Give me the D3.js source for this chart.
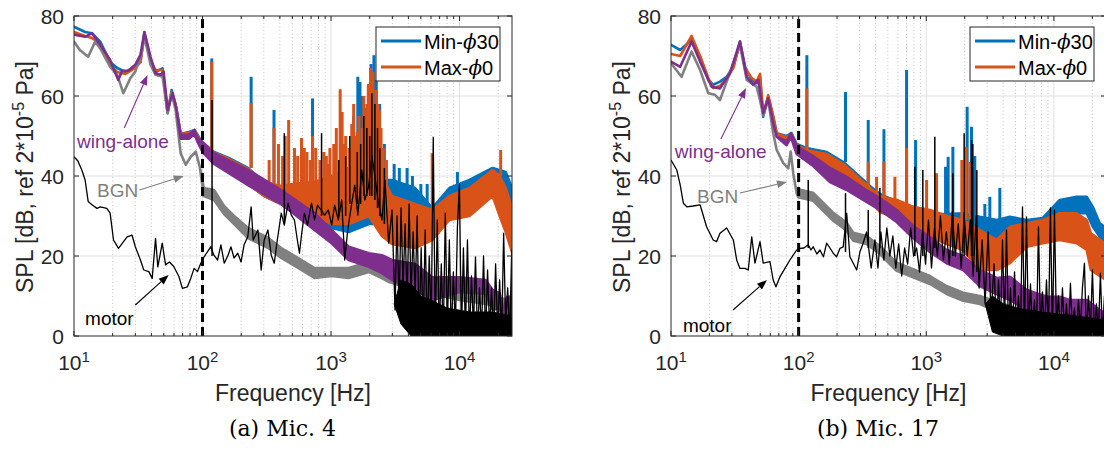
<!DOCTYPE html>
<html><head><meta charset="utf-8">
<script src="https://cdn.jsdelivr.net/npm/d3@7"></script>
<style>
body{margin:0;background:#fff}
svg{display:block}
text{font-family:"Liberation Sans",Arial,Helvetica,sans-serif}
</style>
</head><body>
<svg id="c" width="1104" height="450"></svg>
<script>
// ---------- DATA (frequency Hz, SPL dB) ----------
const yTicks = [0, 20, 40, 60, 80];
const xMajor = [10, 100, 1000, 10000];
const xExp = ["1", "2", "3", "4"];
const legendNames = ["Min-", "Max-"];
const legendSuffix = ["30", "0"];
const captions = ["(a) Mic. 4", "(b) Mic. 17"];
const noteNames = ["wing-alone", "BGN", "motor"];

// ----- Panel (a) Mic. 4 : bands [f, lo, hi]
const aBlue = [[10,77.3,77.3],[12.2,76,76],[13.8,75.7,75.7],[16,73.6,73.6],[19.1,68.5,68.5],[21.7,67,67],[25.1,66,66],[30,67.3,67.3],[32.9,68.5,68.5],[35.3,76,76],[39.4,69,69],[43,66,66],[48.9,66.9,66.9],[53.5,55.7,55.7],[57.5,61.5,61.5],[61.8,58,58],[67.6,49.8,50.5],[78.2,50,51],[86.7,50.5,51.5],[98.9,47,48.5],[123,43.5,46],[160,41.5,44.5],[226,38,42],[302,35,38.5],[410,33,37],[500,31.5,37],[744,29.5,37],[1011,27,37],[1373,26,39],[1970,28,42],[2490,28,39],[2982,29,39],[4515,29,37],[6135,25,32],[8335,33,37],[11950,35.5,39],[18090,38.5,42],[22880,33,41],[25600,27,37]];
const aOrange = [[10,76,76],[12.2,75,75],[13.8,74.5,74.5],[16,73,73],[19.1,68,68],[21.7,66,66],[25.1,65.5,65.5],[30,67,67],[32.9,68.5,68.5],[35.3,75.5,75.5],[39.4,69,69],[43,66.5,66.5],[48.9,66.5,66.5],[53.5,56,56],[57.5,61,61],[61.8,57.5,57.5],[67.6,49.8,50.5],[78.2,49.8,50.8],[86.7,50.3,51.3],[98.9,46.8,48.2],[123,43.5,45.8],[160,41.3,44.3],[226,38,41.8],[302,35,38.5],[410,33,37.5],[500,31,38],[744,30,38.5],[1011,28,40],[1373,28,42],[1970,30,46],[2490,25,40],[2982,23,35],[4515,22,33],[6135,24,31.5],[8335,29,35],[11950,30,37],[18090,35,41.5],[20540,30,40],[22880,26,37],[25600,21,32]];
const aPurple = [[10,75.3,75.3],[12.2,74.8,74.8],[13.8,75.7,75.7],[16,72.8,72.8],[19.1,69,69],[22.1,64,64],[23.7,66.3,66.3],[26.4,66.3,66.3],[30,67.8,67.8],[32.9,70.3,70.3],[35.3,75.9,75.9],[39.4,69.8,69.8],[43,65.7,65.7],[47.1,65.3,65.3],[49.8,66.1,66.1],[53.5,56.5,56.5],[58.5,60.7,60.7],[62.9,56.5,56.5],[67.6,49.3,50.3],[78.2,49.3,50.3],[86.7,50.5,51.5],[91.6,48.5,49.5],[100,46,48.5],[123,43,45.7],[226,37.7,41.5],[410,33,36.5],[744,26.5,30.7],[1011,23.2,26.5],[1373,19,22.3],[1970,17.3,20.7],[2490,15.7,20.2],[2982,14,19],[4515,11.5,18],[6135,9,14.7],[9980,11,14.7],[15950,10.5,14],[18090,6.5,11.5],[20540,7,10.7],[21680,3,6.5],[23500,4.7,9.8],[25600,4.7,9.8]];
const aGray = [[10,73.6,73.6],[11.1,71.5,71.5],[12.9,69.8,69.8],[14.6,73.6,73.6],[16,71.9,71.9],[19.1,67.3,67.3],[21.7,65.3,65.3],[24.2,60.7,60.7],[27.4,64.4,64.4],[30,66.1,66.1],[33.5,70.7,70.7],[35.3,74.8,74.8],[39.4,67.8,67.8],[43,65.3,65.3],[48.9,64.8,64.8],[53.5,55.7,55.7],[57.5,60.7,60.7],[61.8,56.5,56.5],[67.6,45.7,45.7],[74,42.8,42.8],[81,44.8,44.8],[88.6,46.1,46.1],[95.2,42.3,42.3],[102.4,35,37],[123,34,36.5],[147,30.5,32.5],[176,28,30],[226,24.5,27],[325,22,24.5],[410,19.5,22],[589,16.5,19],[744,14.5,17],[1011,15,17],[1373,14.5,17],[1970,16,18.5],[2490,14.5,17],[2825,13.5,15.5],[4000,12,14],[10000,9,11],[25600,7,9]];
const aMotor = [[10,44.8],[10.7,43.8],[11.5,41.5],[12.2,39],[12.9,33.6],[13.8,32.8],[15.1,31.9],[16,32.3],[18,31.9],[19.1,30.7],[20.3,24],[22.2,21.9],[24.3,23.6],[25.9,24.8],[28.3,25.2],[30,22.3],[32.9,19],[34.9,16.5],[38.2,16.1],[40.6,14.4],[43.1,24.4],[44.9,17.3],[48.6,23.2],[51.6,17.8],[55.4,18.5],[59.9,17.3],[65.6,14.8],[69.7,11.9],[76.3,12.3],[81,14.4],[86,16.9],[91.4,16.1],[97,18.2],[100,19],
 [102.9,19.8],[116,22.3],[122.6,20.2],[131,19],[139,22.8],[147.6,18.2],[158,20.2],[166.5,22.3],[176,19.5],[188,20.7],[199.5,18.5],[210.6,22.8],[225,24.8],[239,32.3],[248,24],[270,26.5],[286,16.5],[302,24],[323,26.5],[342.6,20.2],[361.6,18.2],[382,24],[410,30.7],[433,27.7],[463,33.2],[491,30.2],[519,29],[547,24],[568,20.7],[589,25.2],[621,30.7],[656,27.7],[705,33.2],[744,29],[785,32.7],[891,30.2],[953,31.5],[1011,27.7],[1067,32.7],[1140,29],[1211,34],[1278,19],[1349,26.5],[1450,33.2],[1531,37.7],[1616,30.2],[1736,41.5],[1832,34],[1959,37.3],[2080,45],[2195,40],[2317,34],[2490,29],[2628,39],[2810,23.2],[2982,31.5],
 [3148,6.5],[3264,30],[3383,5.7],[3507,32],[3636,12],[3770,28],[3908,8],[4051,33],[4200,10],[4354,26],[4514,9.8],[4680,30],[4851,0],[5029,22],[5214,1.5],[5405,26.5],[5604,0],[5809,20],[6023,3],[6244,49.7],[6473,0],[6710,29],[6957,0.7],[7212,18],[7477,0],[7751,30.7],[8036,1],[8331,24],[8636,0],[8953,16],[9282,2],[9622,27],[9976,38],[10342,0],[10721,22],[11115,1],[11523,24],[11946,0],[12384,15],[12839,2],[13310,19.8],[13798,0],[14304,12],[14829,1],[15374,20],[15938,0],[16523,16.5],[17129,2],[17758,12],[18410,0],[19085,18],[19786,1],[20512,14],[21265,0],[22045,25.7],[22854,3],[23693,12],[24563,0],[25464,21.5],[25600,1]];
// dense black mass of the motor spectrum at high frequency [f, lo, hi]
const aMotorFloor = [[3100,8,8],[3500,3,14],[4200,0,13],[5000,0,10],[6000,0,9],[8000,0,7],[12000,0,6],[18000,0,6],[25600,0,5]];
// spikes [f, base, top]
const aBlueSpikes = [[118,46,69.4],[239,42,64.8],[360,37,56.5],[718,37,59.4],[1500,38,55],[1616,38,64.8],[1680,38,63.5],[1750,40,60],[1850,41,57],[2050,42,68],[2157,40,70.2],[2250,40,64],[2390,38,58],[2600,37,48],[3100,36,43],[3400,35,42],[3908,36,42],[4300,33,40],[5000,32,38],[5600,31,38],[9630,37,41]];
const aOrangeSpikes = [[118,46,68.6],[239,42,58.2],[330,37,44],[360,37,52],[390,37,48],[420,37,45],[440,37,50],[468,37,54],[520,37,47],[550,37,45],[589,37,49.5],[620,37,47],[650,37,46],[690,37,44],[718,37,50],[760,37,47],[820,37,44],[880,37,46],[920,37,45],[950,37,43],[980,37,47],[1050,38,48],[1100,38,52],[1178,38,61.7],[1220,38,56],[1250,38,48],[1300,38,50],[1380,39,47],[1450,40,53],[1500,40,58],[1550,40,50],[1600,40,51],[1650,41,55],[1750,42,52],[1800,42,60],[1900,43,58],[1950,43,63],[2030,44,67],[2120,44,66],[2250,42,61.5],[2320,41,58],[2380,40,56.5],[2450,39,52],[2550,38,47],[2700,36,44],[6135,31,45.7],[20900,40,46.5]];
const aMotorSpikes = [[118.6,20,59],[433,28,50.7],[844,30,50.7],[1150,30,44],[1300,30,45],[1400,33,50],[1600,33,46],[1700,33,48],[1800,35,55],[1900,35,52],[2000,35,50],[2080,35,60.7],[2195,34,58],[2300,32,52],[2400,30,47],[2600,28,42]];

// ----- Panel (b) Mic. 17
const bBlue = [[10,72.8,72.8],[11.8,71.5,71.5],[14.5,74,74],[16.9,69.8,69.8],[19.6,64,64],[21.4,62.8,62.8],[24.2,63.6,63.6],[27.3,64.8,64.8],[30.8,67.3,67.3],[34.7,73.6,73.6],[38,67.3,67.3],[42.9,64,64],[46.9,63.2,63.2],[49.8,64.8,64.8],[52.8,54.8,54.8],[57.8,59.8,59.8],[63.2,54.8,54.8],[67.3,50.7,50.7],[80.5,49,50],[88.1,49.7,50.7],[96.5,46.5,48],[115,44.5,47],[166,43,46],[224,40.5,43.5],[285,37.5,40.5],[362,34,37.5],[433,32,35.5],[589,29.5,33.5],[785,28,32],[1067,26.5,30.5],[1450,26,30.5],[1934,26.5,30.7],[2628,24.8,29.8],[3571,24,29],[4515,24,29.8],[6135,24,29],[8185,24.5,29.5],[11120,29,34],[15110,30.7,34.8],[18090,30.7,34.8],[20170,27.3,32.3],[22880,24.8,28.2],[25600,23,27]];
const bOrange = [[10,70.5,70.5],[11.8,70,70],[14.5,75,75],[16.9,70,70],[19.6,64.5,64.5],[21.4,62,62],[24.2,62.5,62.5],[27.3,64.5,64.5],[30.8,67,67],[34.7,73.3,73.3],[38,67,67],[42.9,64.5,64.5],[46.9,63.6,63.6],[49.8,65.5,65.5],[52.8,55.5,55.5],[57.8,60.2,60.2],[63.2,55,55],[67.3,50.7,50.7],[80.5,48.7,49.7],[88.1,49.5,50.5],[96.5,46.3,47.7],[115,44.3,46.5],[166,42.8,45.5],[224,40.3,43],[285,37.3,40],[362,33.8,37],[433,31,35],[589,29.5,34],[785,27.3,32.3],[1067,24.8,31.5],[1450,23,30],[1934,21.5,29],[2628,16.5,26.5],[3571,16.5,24],[4515,18.2,27.3],[6135,22.3,28.2],[8185,23.2,29],[11120,24,30.7],[15110,23.2,30.7],[18090,21.5,29],[19450,16.5,25.7],[25600,14,23]];
const bPurple = [[10,68.6,68.6],[11.8,67.3,67.3],[14.5,73.6,73.6],[16.9,68.6,68.6],[20.8,62.3,62.3],[24.2,61.9,61.9],[29,65.7,65.7],[34.7,73.6,73.6],[39.2,64.8,64.8],[44.1,62.8,62.8],[48.3,64,64],[52.8,55.7,55.7],[57.8,59.4,59.4],[63.2,53.2,53.2],[67.3,49.8,49.8],[80.5,47.7,48.7],[87,49.7,50.7],[96.5,45.5,47.5],[130,42.5,45],[176,38.5,42],[238,36.5,39.8],[320,34,37],[433,31.5,34.5],[586,28.5,31.5],[790,24.5,27.5],[1067,21,24.8],[1442,18.2,21.5],[1945,16.5,20],[2628,12.5,16.5],[3552,10.5,14.5],[4515,9,14.8],[6135,6.5,11.5],[8800,4.7,9.8],[11120,6.5,9.8],[13320,4.7,9],[18090,4,9],[22880,1.5,6.5],[25600,1,5.5]];
const bGray = [[10,68.2,68.2],[12.1,64.8,64.8],[14.5,71.1,71.1],[16.9,66.5,66.5],[19.6,60.7,60.7],[22.1,60.3,60.3],[24.2,59,59],[27.3,63.6,63.6],[34.7,72.8,72.8],[39.2,64,64],[46.9,62.3,62.3],[49.8,59,59],[52.8,55.2,55.2],[57.8,59,59],[63.2,50.7,50.7],[67.3,46.5,46.5],[75.8,43.2,43.2],[82.9,41.9,41.9],[86.6,46.1,46.1],[90.7,40.7,40.7],[96.5,35.7,35.7],[99.3,34.7,36.7],[130,33.8,35.8],[156,31.3,33.3],[187,28.8,30.8],[238,26.3,28.3],[268,23.8,25.8],[341,23,25],[433,20.5,22.5],[586,16.3,18.3],[790,14.7,16.7],[1067,13,15],[1442,10.5,12.5],[1945,8.8,10.8],[2628,8,10],[5000,4,7],[10000,3,6],[25600,2,5]];
const bMotor = [[10,44],[11.1,41.5],[11.8,37.8],[12.5,33.2],[13.3,32.3],[14.9,32.5],[16.9,32.8],[19,27.3],[21.4,24],[22.8,23.6],[24.2,25.7],[27.3,27],[30.8,24],[32.7,19],[34.7,16.9],[38,16.9],[40.3,16.5],[42.9,24.8],[45.5,18.2],[49.8,23.6],[52.8,18.2],[59.6,18.6],[63.2,14],[66.4,12.3],[71.4,14.8],[78.1,16.9],[85.5,19],[90.7,20.2],[96.5,21.5],[102.4,21.9],[110,22],[118.9,22.8],[125,21.5],[130,22.3],[139,20.5],[146.8,21.5],[156.4,19.8],[165.7,23.2],[176,22],[186.6,20.7],[198.4,19.8],[210.6,21.9],[223.6,22.3],[238,30.7],[252,19.8],[268,18.2],[285,16.5],[302,21],[320,23.2],[341,26],[370,17],
 [396,24],[418,17],[441,26],[465,19],[491,27],[518,20],[547,25],[577,17],[608,23],[642,15],[677,22],[715,18],[754,27],[796,20],[840,22],[886,16],[935,26],[987,18],[1041,29],[1099,17],[1159,27],[1223,20],[1291,30],[1362,19],[1437,26],[1516,18],[1600,31],[1688,20],[1781,28],[1880,17],[1984,30],[2093,20],[2209,29],[2331,15],[2460,30],[2595,12],[2739,24],[2890,8],[3050,26],[3218,5],[3396,18],
 [3552,0.7],[3682,14],[3817,2],[3957,24],[4103,3],[4253,26.5],[4409,1],[4571,12],[4739,0],[4913,16],[5093,2],[5280,10],[5474,0],[5675,32.3],[5883,1],[6099,29.8],[6323,0],[6555,13],[6795,1],[7045,9],[7303,0],[7571,27.3],[7849,2],[8137,11],[8436,0],[8745,14],[9066,1],[9399,32],[9744,0],[10101,31.5],[10472,2],[10857,10],[11255,0],[11668,12],[12097,1],[12541,8],[13001,0],[13478,13.2],[13973,1],[14486,7],[15018,0],[15569,9],[16140,2],[16732,12],[17347,18.2],[17983,0],[18643,10],[19328,1],[20037,16.5],[20773,0],[21535,8],[22326,1],[23145,15.7],[23995,0],[24876,10],[25600,2]];
const bMotorFloor = [[2900,8,8],[3300,1,10],[4000,0,8],[5000,0,7],[8000,0,6],[15000,0,5],[25600,0,4]];
const bBlueSpikes = [[116,47,70.2],[233,43.5,61],[351,37.5,54],[466,35,51.7],[701,32.5,66.5],[825,31.5,49],[1416,30.5,42.3],[1484,30.5,44.8],[1616,30.5,47.3],[2091,30.5,57.3],[2263,30,52.3],[2400,30,45],[2876,29.5,33],[3148,29,34.8],[3770,29,37]];
const bOrangeSpikes = [[116,46.5,61.9],[351,37,43.6],[408,35,39.8],[466,35,43.6],[568,34,39.8],[701,32.5,47],[1006,31.5,39],[1204,31,40.7],[1900,29,44],[2050,29,47.3],[2200,28,43.5],[2300,28,41]];
const bMotorSpikes = [[118.9,22,39],[233,21,35.7],[351,22,31.5],[433,22,37],[814,20,42.3],[940,20,41.5],[1167,22,49.8],[1616,20,40.7],[1981,20,50.7],[2263,20,49],[2317,20,48],[2490,16,41.5]];

// annotations in data coordinates: text anchor [f, dB], arrow [fTail, dBTail, fTip, dBTip]
const aNotes = [[10.56,47],[15.1,34.75],[12.2,2.75]];
const aArrows = [[24.6,52,37.3,65.25],[32.3,36.5,71.4,40],[30,7.75,54.5,15.25]];
const bNotes = [[10.7,44.5],[16,33.25],[12.4,1]];
const bArrows = [[24.6,49.25,38.7,62],[34.7,35.75,81,38.5],[30.6,6.5,56.5,14]];

// ---------- DRAW ----------
const C = {blue:"#0072BD", orange:"#D95319", purple:"#7E2F8E", gray:"#808080", black:"#000000", axis:"#262626"};
const noteColors = [C.purple, C.gray, C.black];
const TOP = 16, BOT = 336;
const panels = [
  {L:74, R:512, blue:aBlue, orange:aOrange, purple:aPurple, gray:aGray, motor:aMotor, floor:aMotorFloor, bs:aBlueSpikes, os:aOrangeSpikes, ms:aMotorSpikes, notes:aNotes, arrows:aArrows},
  {L:671, R:1106, blue:bBlue, orange:bOrange, purple:bPurple, gray:bGray, motor:bMotor, floor:bMotorFloor, bs:bBlueSpikes, os:bOrangeSpikes, ms:bMotorSpikes, notes:bNotes, arrows:bArrows}
];
const svg = d3.select("#c");
const defs = svg.append("defs");

panels.forEach((p, i) => {
  const x = d3.scaleLog().domain([10, 25600]).range([p.L, p.R]);
  const y = d3.scaleLinear().domain([0, 80]).range([BOT, TOP]);
  const g = svg.append("g");
  const cid = "clip" + i;
  defs.append("clipPath").attr("id", cid).append("rect")
    .attr("x", p.L).attr("y", TOP).attr("width", p.R - p.L).attr("height", BOT - TOP);

  // grid
  const allTicks = x.ticks().filter(t => t >= 10 && t <= 25600);
  const minor = allTicks.filter(t => !xMajor.includes(t));
  g.selectAll(".mg").data(minor).enter().append("line")
    .attr("x1", d => x(d)).attr("x2", d => x(d)).attr("y1", TOP).attr("y2", BOT)
    .attr("stroke", "#c4c4c4").attr("stroke-width", 1).attr("stroke-dasharray", "1,2.5");
  g.selectAll(".Mg").data(xMajor.slice(1)).enter().append("line")
    .attr("x1", d => x(d)).attr("x2", d => x(d)).attr("y1", TOP).attr("y2", BOT)
    .attr("stroke", "#e0e0e0").attr("stroke-width", 1);
  g.selectAll(".yg").data(yTicks.slice(1, -1)).enter().append("line")
    .attr("x1", p.L).attr("x2", p.R).attr("y1", d => y(d)).attr("y2", d => y(d))
    .attr("stroke", "#e0e0e0").attr("stroke-width", 1);

  const dg = g.append("g").attr("clip-path", `url(#${cid})`);
  const area = d3.area().x(d => x(d[0])).y0(d => y(d[1])).y1(d => y(d[2]));
  const band = (data, col, w) => dg.append("path").attr("d", area(data))
    .attr("fill", col).attr("stroke", col).attr("stroke-width", w).attr("stroke-linejoin", "round");
  const spikes = (data, col, w) => dg.append("g").selectAll("line").data(data).enter().append("line")
    .attr("x1", d => x(d[0])).attr("x2", d => x(d[0])).attr("y1", d => y(d[1])).attr("y2", d => y(d[2]))
    .attr("stroke", col).attr("stroke-width", w);

  band(p.blue, C.blue, 2.6);
  spikes(p.bs, C.blue, 3);
  band(p.orange, C.orange, 2.6);
  spikes(p.os, C.orange, 3);
  band(p.gray, C.gray, 2.6);
  band(p.purple, C.purple, 2.6);
  band(p.floor, C.black, 1);
  const line = d3.line().x(d => x(d[0])).y(d => y(d[1]));
  dg.append("path").attr("d", line(p.motor)).attr("fill", "none").attr("stroke", C.black)
    .attr("stroke-width", 1.3).attr("stroke-linejoin", "round");
  spikes(p.ms, C.black, 1.5);

  // dashed line at 100 Hz
  g.append("line").attr("x1", x(100)).attr("x2", x(100)).attr("y1", y(0)).attr("y2", y(80))
    .attr("stroke", "#000").attr("stroke-width", 3).attr("stroke-dasharray", "9,5");

  // box
  g.append("rect").attr("x", p.L).attr("y", TOP).attr("width", p.R - p.L).attr("height", BOT - TOP)
    .attr("fill", "none").attr("stroke", C.axis).attr("stroke-width", 1);
  // ticks
  const tk = g.append("g").attr("stroke", C.axis).attr("stroke-width", 1);
  allTicks.forEach(t => {
    const len = xMajor.includes(t) ? 5 : 3;
    tk.append("line").attr("x1", x(t)).attr("x2", x(t)).attr("y1", BOT).attr("y2", BOT - len);
    tk.append("line").attr("x1", x(t)).attr("x2", x(t)).attr("y1", TOP).attr("y2", TOP + len);
  });
  yTicks.forEach(t => {
    tk.append("line").attr("x1", p.L).attr("x2", p.L + 5).attr("y1", y(t)).attr("y2", y(t));
    tk.append("line").attr("x1", p.R).attr("x2", p.R - 5).attr("y1", y(t)).attr("y2", y(t));
  });
  // tick labels
  yTicks.forEach(t => {
    g.append("text").attr("x", p.L - 10).attr("y", y(t) + 7.5).attr("text-anchor", "end")
      .style("font-size", "21px").attr("fill", C.axis).text(t);
  });
  xMajor.forEach((t, k) => {
    const tx = g.append("text").attr("x", x(t)).attr("y", 370).attr("text-anchor", "middle")
      .style("font-size", "21px").attr("fill", C.axis);
    tx.append("tspan").text("10");
    tx.append("tspan").attr("dy", -8.5).style("font-size", "15px").text(xExp[k]);
  });
  // axis labels
  const cx = (p.L + p.R) / 2;
  g.append("text").attr("x", cx).attr("y", 401).attr("text-anchor", "middle")
    .style("font-size", "23px").attr("fill", C.axis).text("Frequency [Hz]");
  const yl = g.append("text").attr("transform", `translate(${p.L - 41},177) rotate(-90)`)
    .attr("text-anchor", "middle").style("font-size", "23px").attr("fill", C.axis);
  yl.append("tspan").text("SPL [dB, ref 2*10");
  yl.append("tspan").attr("dy", -9).style("font-size", "16px").text("-5");
  yl.append("tspan").attr("dy", 9).text(" Pa]");
  // caption
  g.append("text").attr("x", cx - 10.5).attr("y", 436).attr("text-anchor", "middle")
    .style("font-family", "'DejaVu Serif','Liberation Serif',serif").style("font-size", "22px")
    .attr("fill", "#000").text(captions[i]);

  // legend
  const lr = p.R - 12, ll = lr - 124;
  g.append("rect").attr("x", ll).attr("y", 27).attr("width", 124).attr("height", 54)
    .attr("fill", "#fff").attr("stroke", C.axis).attr("stroke-width", 1);
  [C.blue, C.orange].forEach((col, k) => {
    const ly = 41 + k * 26;
    g.append("line").attr("x1", ll + 5).attr("x2", ll + 45).attr("y1", ly).attr("y2", ly)
      .attr("stroke", col).attr("stroke-width", 3);
    const lt = g.append("text").attr("x", ll + 48).attr("y", ly + 8).style("font-size", "20px").attr("fill", "#000");
    lt.append("tspan").text(legendNames[k]);
    lt.append("tspan").style("font-style", "italic").style("font-family", "'DejaVu Serif',serif").text("\u03D5");
    lt.append("tspan").text(legendSuffix[k]);
  });

  // annotations
  p.notes.forEach((n, k) => {
    g.append("text").attr("x", x(n[0])).attr("y", y(n[1])).style("font-size", "19px")
      .attr("fill", noteColors[k]).text(noteNames[k]);
  });
  p.arrows.forEach((a, k) => {
    const x0 = x(a[0]), y0 = y(a[1]), x1 = x(a[2]), y1 = y(a[3]);
    const ang = Math.atan2(y1 - y0, x1 - x0);
    const hl = 10, hw = 3.8;
    const bx = x1 - hl * Math.cos(ang), by = y1 - hl * Math.sin(ang);
    g.append("line").attr("x1", x0).attr("y1", y0).attr("x2", bx).attr("y2", by)
      .attr("stroke", noteColors[k]).attr("stroke-width", 1.1);
    const pts = [[x1, y1], [bx + hw * Math.sin(ang), by - hw * Math.cos(ang)], [bx - hw * Math.sin(ang), by + hw * Math.cos(ang)]];
    g.append("polygon").attr("points", pts.map(q => q.join(",")).join(" ")).attr("fill", noteColors[k]);
  });
});
</script>
</body></html>
